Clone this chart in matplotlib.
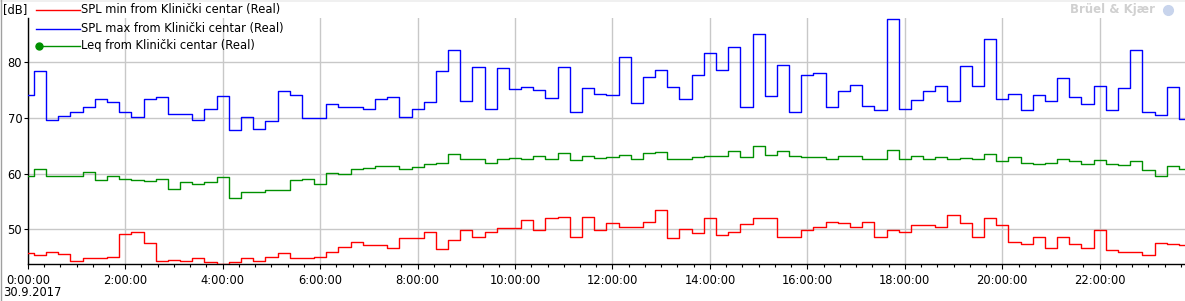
import numpy as np
import matplotlib
matplotlib.use("Agg")
import matplotlib.pyplot as plt
from matplotlib.lines import Line2D
from matplotlib.patches import Rectangle
from matplotlib.ticker import MultipleLocator, FuncFormatter

# ---------------- data (15-minute intervals, 30.9.2017) ----------------
hours = np.arange(96) * 0.25  # 0:00 ... 23:45

spl_max = [74.1, 78.4, 69.6, 70.3, 71.1, 71.9, 73.4, 72.8, 71.0, 70.1,
           73.4, 73.7, 70.7, 70.7, 69.6, 71.6, 73.9, 67.8, 70.1, 68.0,
           69.4, 74.8, 74.1, 70.0, 70.0, 72.5, 71.9, 71.9, 71.6, 73.4,
           73.7, 70.1, 71.7, 72.8, 78.4, 82.3, 73.0, 79.2, 71.6, 79.0,
           75.2, 75.5, 75.0, 73.5, 79.2, 71.0, 75.3, 74.3, 74.1, 80.9,
           72.6, 77.3, 78.6, 75.5, 73.4, 77.7, 81.6, 78.6, 82.7, 71.9,
           85.0, 73.9, 79.5, 71.0, 77.8, 78.0, 71.9, 74.8, 76.0, 72.1,
           71.4, 87.7, 71.7, 73.2, 74.8, 75.7, 73.0, 79.3, 75.7, 84.1,
           73.4, 74.3, 71.4, 74.1, 73.0, 77.1, 73.7, 72.5, 75.7, 71.4,
           75.3, 82.3, 71.0, 70.5, 75.5, 69.8]

leq = [59.5, 60.8, 59.5, 59.5, 59.5, 60.3, 58.8, 59.5, 59.0, 58.8,
       58.6, 59.0, 57.2, 58.5, 58.1, 58.5, 59.4, 55.6, 56.7, 56.7,
       57.0, 57.0, 58.8, 59.0, 58.1, 60.1, 59.9, 60.8, 61.0, 61.3,
       61.3, 60.8, 61.2, 61.7, 61.9, 63.5, 62.6, 62.6, 61.9, 62.6,
       62.8, 62.6, 63.1, 62.6, 63.7, 62.4, 63.1, 62.8, 62.9, 63.3,
       62.6, 63.7, 63.8, 62.6, 62.6, 62.9, 63.1, 63.1, 64.0, 62.9,
       64.9, 63.3, 64.0, 63.1, 62.9, 62.9, 62.6, 63.1, 63.1, 62.6,
       62.6, 64.2, 62.6, 63.1, 62.6, 62.9, 62.6, 62.8, 62.6, 63.5,
       62.2, 62.9, 62.0, 61.7, 62.0, 62.6, 62.2, 61.7, 62.4, 61.7,
       61.5, 62.2, 60.6, 59.5, 61.3, 60.8]

spl_min = [45.7, 45.3, 46.0, 45.5, 44.25, 44.8, 44.8, 45.0, 49.1, 49.5,
           47.5, 44.25, 44.4, 44.25, 44.8, 44.1, 43.8, 44.1, 44.8, 44.25,
           45.1, 45.7, 44.8, 44.8, 45.0, 46.0, 46.8, 47.7, 47.1, 47.1,
           46.6, 48.4, 48.4, 49.5, 46.4, 48.0, 49.8, 48.7, 49.6, 50.2,
           50.2, 51.6, 49.8, 52.0, 52.15, 48.6, 52.15, 49.8, 51.1, 50.35,
           50.5, 51.4, 53.4, 48.4, 50.0, 49.3, 52.0, 48.9, 49.6, 50.9,
           52.0, 52.0, 48.6, 48.6, 49.8, 50.35, 51.25, 51.1, 50.5, 51.4,
           48.7, 49.8, 49.6, 50.7, 50.7, 50.35, 52.5, 51.1, 48.6, 52.0,
           50.7, 47.8, 47.3, 48.6, 46.6, 48.7, 47.3, 46.6, 49.8, 46.2,
           46.0, 45.9, 45.3, 47.5, 47.3, 47.1]

labels = ["SPL min from Klinički centar (Real)",
          "SPL max from Klinički centar (Real)",
          "Leq from Klinički centar (Real)"]
colors = ["#ff0000", "#0000ff", "#009000"]
date_label = "30.9.2017"
unit_label = "[dB]"

# ---------------- figure ----------------
W, H = 1185, 301
fig = plt.figure(figsize=(W / 100, H / 100), dpi=100)
plt.rcParams['font.family'] = ['DejaVu Sans']

def fx(x):
    return x / W

def fy(y):
    return 1 - y / H

ax_l, ax_t, ax_b = 27.8, 18.0, 263.7
ax = fig.add_axes([fx(ax_l), fy(ax_b), 1 - fx(ax_l), (ax_b - ax_t) / H])

lw = 1.0
ax.plot(hours, spl_min, drawstyle='steps-mid', color=colors[0], lw=lw, zorder=3)
ax.plot(hours, spl_max, drawstyle='steps-mid', color=colors[1], lw=lw, zorder=3)
ax.plot(hours, leq, drawstyle='steps-mid', color=colors[2], lw=lw, zorder=3)

ax.set_xlim(0, 23.75)
ax.set_ylim(43.82, 87.96)

ax.xaxis.set_major_locator(MultipleLocator(2))
ax.xaxis.set_minor_locator(MultipleLocator(1 / 3))
ax.xaxis.set_major_formatter(FuncFormatter(lambda v, p: f"{int(round(v))}:00:00"))
ax.yaxis.set_major_locator(MultipleLocator(10))

ax.grid(True, which='major', color='#c8c8c8', lw=1.0, zorder=0)
ax.set_axisbelow(True)

for s in ['top', 'right']:
    ax.spines[s].set_visible(False)
for s in ['left', 'bottom']:
    ax.spines[s].set_color('black')
    ax.spines[s].set_linewidth(1.0)

ax.tick_params(axis='x', which='major', length=3.5, width=0.8, pad=4,
               labelsize=8.3, colors='black')
ax.tick_params(axis='x', which='minor', length=2, width=0.8)
ax.tick_params(axis='y', which='major', length=3, width=0.8, pad=1,
               labelsize=8.3, colors='black')

# figure border details
fig.add_artist(Rectangle((0, fy(2)), 1, 2 / H, transform=fig.transFigure,
                         facecolor='#f0f0f0', edgecolor='none'))
fig.add_artist(Line2D([fx(0.5), fx(0.5)], [0, 1], transform=fig.transFigure,
                      color='#a0a0a0', lw=1.0))

# unit label and date
fig.text(fx(3), fy(10), unit_label, fontsize=8.3, va='center', ha='left')
fig.text(fx(3), fy(292), date_label, fontsize=8.3, va='center', ha='left')

# legend (manual, like the original)
leg_y = [10, 28.5, 46]
for i, (lab, col) in enumerate(zip(labels, colors)):
    y = leg_y[i]
    fig.add_artist(Line2D([fx(36), fx(80)], [fy(y), fy(y)],
                          transform=fig.transFigure, color=col, lw=1.0))
    if i == 2:
        fig.add_artist(Line2D([fx(39)], [fy(y)], transform=fig.transFigure,
                              color=col, marker='o', markersize=5, lw=0))
    fig.text(fx(81), fy(y), lab, fontsize=8.3, va='center', ha='left')

# watermark
fig.text(fx(1155), fy(10), "Brüel & Kjær", fontsize=8.5, fontweight='bold',
         color='#d0d0d0', va='center', ha='right')
fig.add_artist(Line2D([fx(1168)], [fy(10)], transform=fig.transFigure,
                      color='#c8d4ec', marker='o', markersize=7, lw=0))

fig.savefig("out.png", dpi=100)
